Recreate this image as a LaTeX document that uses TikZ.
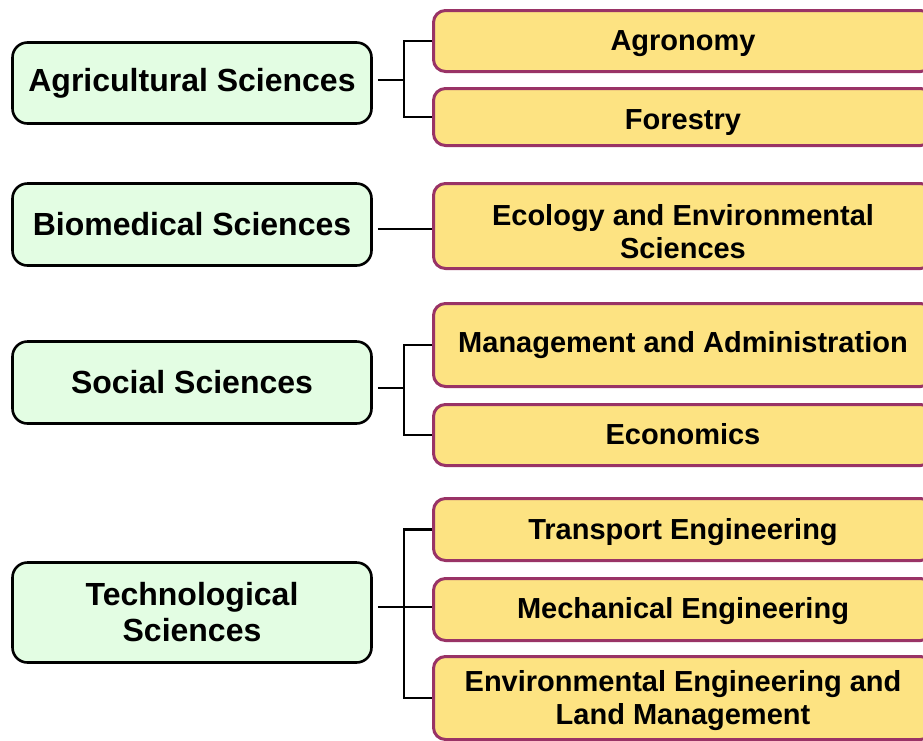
\documentclass[tikz,border=0pt]{standalone}
\usepackage{fontspec}
\setmainfont{Liberation Sans}
\usetikzlibrary{calc}
\definecolor{leftfill}{RGB}{227,253,227}
\definecolor{rightfill}{RGB}{253,227,130}
\definecolor{rightdraw}{RGB}{153,51,102}
\newcommand{\lowered}[2]{\raisebox{-#1pt}[\height][\depth]{\begin{tabular}{@{}c@{}}#2\end{tabular}}}
\begin{document}
\begin{tikzpicture}[x=1pt,y=-1pt,
  field/.style={draw=black, line width=2.6pt, fill=leftfill, rounded corners=15pt,
    minimum width=359pt, align=center, inner sep=0pt,
    font=\fontsize{32}{36}\selectfont\bfseries},
  sub/.style={draw=rightdraw, line width=3pt, fill=rightfill, rounded corners=12pt,
    minimum width=499pt, inner sep=0pt,
    font=\fontsize{29}{33}\selectfont\bfseries},
  link/.style={line width=2.5pt, draw=black, line join=miter}]
\useasboundingbox (0,0) rectangle (923,740);
\clip (0,0) rectangle (923,740);
\fill[white] (0,0) rectangle (923,740);

% left boxes
\node[field, minimum height=81pt] (agri) at (192,83) {Agricultural Sciences};
\node[field, minimum height=82pt] (bio) at (192,224.5) {Biomedical Sciences};
\node[field, minimum height=82pt] (soc) at (192,382.5) {Social Sciences};
\node[field, minimum height=100pt] (tech) at (192,612.5) {Technological\\Sciences};

% right boxes
\node[sub, minimum height=61pt] (agro) at (683,41) {\lowered{3}{Agronomy}};
\node[sub, minimum height=57pt] (fore) at (683,117) {\lowered{6}{Forestry}};
\node[sub, minimum height=85pt] (eco) at (683,226) {\lowered{9}{Ecology and Environmental\\Sciences}};
\node[sub, minimum height=83pt] (mgmt) at (683,345) {\lowered{1}{Management and Administration}};
\node[sub, minimum height=61pt] (econ) at (683,435) {\lowered{3}{Economics}};
\node[sub, minimum height=62pt] (trans) at (683,529.5) {\lowered{3}{Transport Engineering}};
\node[sub, minimum height=62pt] (mech) at (683,609.5) {\lowered{2}{Mechanical Engineering}};
\node[sub, minimum height=83pt] (env) at (683,698) {\lowered{3}{Environmental Engineering and\\Land Management}};

% junctions
\coordinate (ja) at (404,80);
\coordinate (jb) at (404,229);
\coordinate (js) at (404,388);
\coordinate (jt) at (404,607);

% connectors
\draw[link] ($(agri.east|-ja)+(5,0)$) -- (ja);
\draw[link] (agro.west) -| (ja) |- (fore.west);

\draw[link] ($(bio.east|-jb)+(5,0)$) -- (eco.west|-jb);

\draw[link] ($(soc.east|-js)+(5,0)$) -- (js);
\draw[link] (mgmt.west) -| (js) |- (econ.west);

\draw[link] ($(tech.east|-jt)+(5,0)$) -- (mech.west|-jt);
\draw[link] (trans.west) -| (jt) |- (env.west);
\end{tikzpicture}
\end{document}
